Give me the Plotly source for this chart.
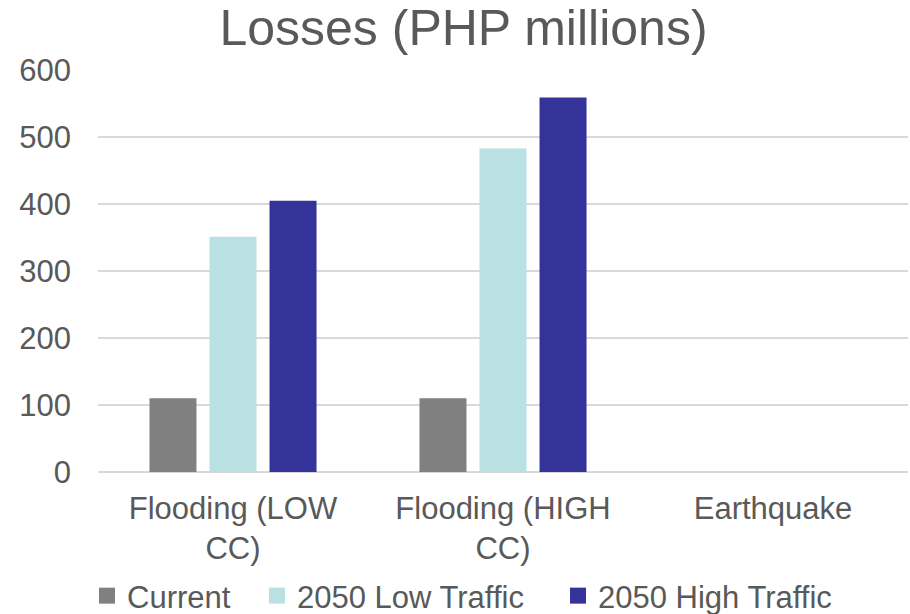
import plotly.graph_objects as go

# Hazard scenarios along the x axis
categories = ["Flooding (LOW<br>CC)", "Flooding (HIGH<br>CC)", "Earthquake"]

# Losses per scenario, PHP millions
series_names = ["Current", "2050 Low Traffic", "2050 High Traffic"]
current = [110, 110, 0]
low_traffic_2050 = [351, 483, 0]
high_traffic_2050 = [405, 559, 0]

y_ticks = [0, 100, 200, 300, 400, 500, 600]

FONT = "Liberation Sans, Arial, sans-serif"
TEXT = "#595959"
COLORS = ["#808080", "#B9E0E2", "#333399"]
LEGENDS = ["legend", "legend2", "legend3"]
LEGEND_LEFT = [87, 257, 558]  # px, left edge of each legend key box

fig = go.Figure()
for name, vals, col in zip(series_names,
                           [current, low_traffic_2050, high_traffic_2050],
                           COLORS):
    fig.add_trace(go.Bar(name=name, x=categories, y=vals, showlegend=False,
                         marker=dict(color=col, line=dict(width=0))))
# square legend keys, one legend box per series
for name, col, lg in zip(series_names, COLORS, LEGENDS):
    fig.add_trace(go.Scatter(name=name, x=[None], y=[None], mode="markers",
                             legend=lg,
                             marker=dict(symbol="square", size=16, color=col)))

legend_style = dict(orientation="h", xanchor="left", xref="container",
                    y=1 - 596 / 614, yref="container", yanchor="middle",
                    font=dict(family=FONT, size=31, color=TEXT),
                    itemwidth=30, bgcolor="rgba(0,0,0,0)")

fig.update_layout(
    width=910, height=614,
    margin=dict(l=98, r=2, t=70, b=142),
    paper_bgcolor="white", plot_bgcolor="white",
    barmode="group", bargap=0.333, bargroupgap=0.217,
    font=dict(family=FONT, color=TEXT, size=31),
    title=dict(text="Losses (PHP millions)", x=463.5 / 910, xanchor="center",
               xref="container", y=1 - 27 / 614, yref="container",
               yanchor="middle",
               font=dict(family=FONT, size=50, color=TEXT)),
    legend=dict(x=LEGEND_LEFT[0] / 910, **legend_style),
    legend2=dict(x=LEGEND_LEFT[1] / 910, **legend_style),
    legend3=dict(x=LEGEND_LEFT[2] / 910, **legend_style),
    showlegend=True,
)
fig.update_yaxes(range=[0, 600], tickvals=y_ticks, showgrid=True,
                 gridcolor="#d9d9d9", gridwidth=1.5, zeroline=True,
                 zerolinecolor="#d9d9d9", zerolinewidth=1.5,
                 showline=False, ticks="", ticklabelstandoff=26,
                 tickfont=dict(family=FONT, size=31, color=TEXT))
fig.update_xaxes(showgrid=False, showline=False, ticks="",
                 ticklabelstandoff=15,
                 tickfont=dict(family=FONT, size=31, color=TEXT))

fig.write_html("out.html")
